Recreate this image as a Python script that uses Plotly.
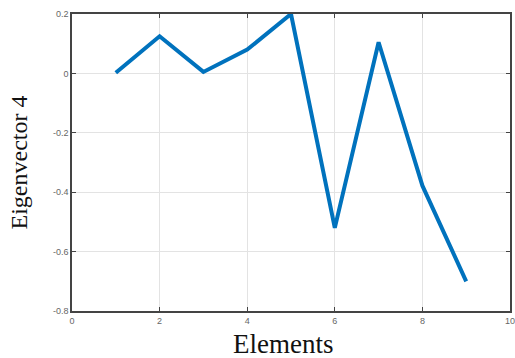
import plotly.graph_objects as go

elements = [1, 2, 3, 4, 5, 6, 7, 8, 9]
eigvec4 = [0.002, 0.125, 0.005, 0.08, 0.2, -0.52, 0.105, -0.378, -0.70]
x_ticks = [0, 2, 4, 6, 8, 10]
y_ticks = [0.2, 0, -0.2, -0.4, -0.6, -0.8]
y_tick_labels = ["0.2", "0", "-0.2", "-0.4", "-0.6", "-0.8"]

fig = go.Figure()
fig.add_trace(go.Scatter(x=elements, y=eigvec4, mode="lines",
                         line=dict(color="#0072BD", width=4)))

axis_common = dict(showline=True, linecolor="#444", linewidth=1.5, mirror="ticks",
                   ticks="inside", ticklen=4, tickcolor="#444", automargin=False,
                   ticklabeloverflow="allow",
                   showgrid=True, gridcolor="#e3e3e3", gridwidth=1, zeroline=False,
                   tickfont=dict(family="Liberation Sans, Arial", size=9, color="#666"))

fig.update_layout(
    width=515, height=358,
    margin=dict(l=72, r=5, t=14, b=47),
    paper_bgcolor="white", plot_bgcolor="white",
    showlegend=False,
    xaxis=dict(range=[0, 10], tickvals=x_ticks, ticktext=[str(v) for v in x_ticks],
               **axis_common),
    yaxis=dict(range=[-0.8, 0.2], tickvals=y_ticks, ticktext=y_tick_labels,
               title=dict(text="Eigenvector 4", font=dict(family="Liberation Serif, Times New Roman", size=24, color="#111"), standoff=19),
               **axis_common),
    annotations=[dict(text="Elements", xref="paper", yref="paper", x=0.482, y=-0.112,
                      xanchor="center", yanchor="middle", showarrow=False,
                      font=dict(family="Liberation Serif, Times New Roman", size=27, color="#111"))],
)
fig.write_html("out.html", config={"displayModeBar": False},
               post_script="document.body.style.margin='0px';document.body.style.padding='0px';")
